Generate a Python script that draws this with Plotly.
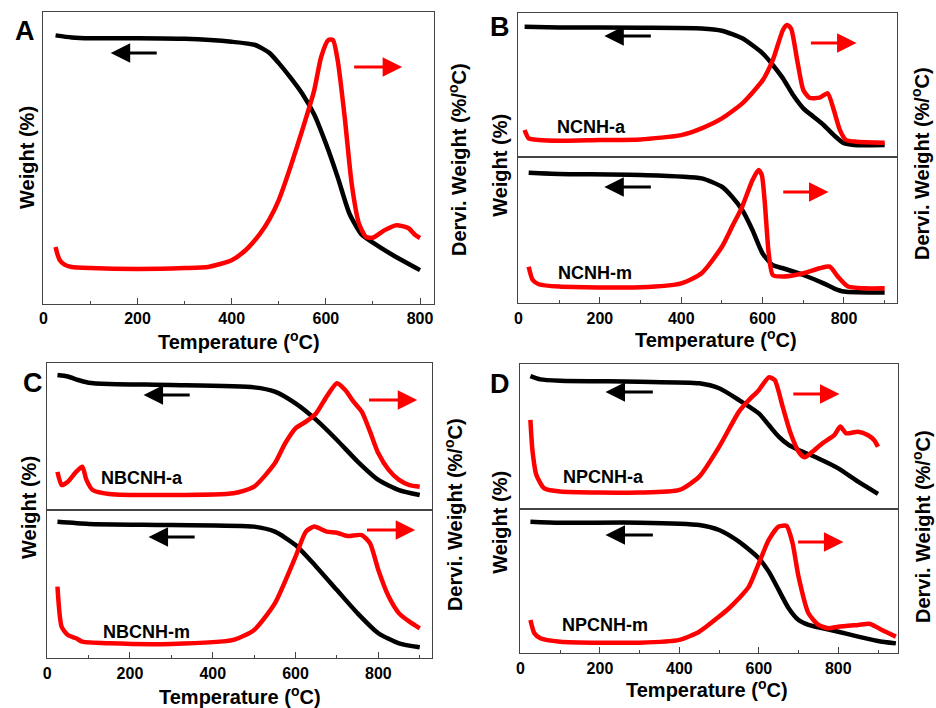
import plotly.graph_objects as go

# ---------------- DATA (arbitrary units 0-100) ----------------
# Panel A
A_T_w = [26, 60, 100, 200, 300, 400, 450, 480, 500, 525, 550, 575, 600, 625, 650, 675, 700, 750, 800]
A_w   = [92, 91.3, 91, 91, 90.8, 89.8, 88.7, 86, 82.5, 77.5, 72, 65, 55, 43.5, 31, 24, 21, 16, 11.6]
A_T_d = [26, 30, 35, 45, 60, 100, 200, 300, 350, 400, 430, 460, 480, 500, 525, 550, 575, 590, 605, 615,
         625, 640, 655, 670, 685, 700, 725, 750, 775, 790, 800]
A_d   = [19.5, 17, 15, 13.5, 12.7, 12.3, 12, 12.3, 12.7, 15, 18.5, 24, 29, 35.6, 47, 59.6, 73, 84.6, 90.4, 90.4,
         83.6, 64, 41, 27.7, 23, 22.7, 25.3, 27, 26, 23.6, 22.6]

# Panel B - NCNH-a
Ba_T_w = [15, 100, 300, 450, 500, 550, 600, 625, 650, 675, 700, 725, 750, 775, 800, 825, 900]
Ba_w   = [90.3, 89.8, 89.6, 89.1, 87.5, 82.2, 71.8, 63.7, 54.4, 42.8, 33.6, 27.8, 22, 15, 9.3, 8.1, 8.1]
Ba_T_d = [15, 25, 50, 100, 200, 300, 400, 450, 500, 550, 600, 625, 650, 660, 670, 685, 700, 715, 740,
          760, 775, 790, 805, 830, 900]
Ba_d   = [18.5, 12.7, 11.6, 11.1, 11.6, 12, 15, 19.7, 26.6, 37, 53, 67, 88, 91.4, 89, 67, 46.3, 41, 41,
          44, 32.4, 18.5, 11.6, 10.4, 9.7]
# Panel B - NCNH-m
Bm_T_w = [25, 100, 300, 450, 500, 525, 550, 575, 600, 625, 650, 700, 750, 775, 800, 900]
Bm_w   = [89, 88.2, 87.5, 85.2, 79.5, 72.7, 63.6, 50, 34, 26, 23.9, 19.3, 13.6, 10.2, 8, 7.3]
Bm_T_d = [25, 35, 50, 100, 300, 400, 450, 500, 525, 550, 575, 590, 598, 605, 615, 625, 650, 700, 740,
          765, 785, 810, 850, 900]
Bm_d   = [25, 15.9, 13, 11.4, 10.9, 13.6, 20.5, 38.6, 52.3, 66, 84, 91, 87.5, 70, 34, 19.3, 18.2, 20.5, 23.9,
          25, 18.2, 11.4, 10.2, 10.2]

# Panel C - NBCNH-a
Ca_T_w = [25, 50, 75, 100, 150, 300, 500, 550, 600, 650, 700, 750, 800, 850, 900]
Ca_w   = [92, 91, 88.6, 86.8, 85.9, 85.2, 83.6, 80.7, 72.7, 61.4, 47.7, 33, 20.5, 13.6, 10.2]
Ca_T_d = [25, 35, 50, 70, 85, 95, 110, 150, 300, 450, 500, 550, 575, 600, 625, 650, 675, 700, 720,
          740, 760, 780, 800, 825, 850, 875, 900]
Ca_d   = [26, 17, 19.3, 26, 29.5, 20.5, 13.6, 10.9, 10.2, 11.4, 15.9, 31.8, 45.5, 55.7, 60.2, 66, 77.3, 86.4, 81.8,
          73.9, 67, 53.4, 38.6, 27.3, 20.5, 17, 15.9]
# Panel C - NBCNH-m
Cm_T_w = [25, 100, 300, 500, 550, 600, 650, 700, 750, 800, 850, 900]
Cm_w   = [92, 90.6, 89.9, 88.8, 85.4, 76.4, 61.8, 46, 30.3, 16.9, 10.1, 7.4]
Cm_T_d = [25, 35, 50, 70, 85, 150, 300, 450, 500, 550, 600, 625, 645, 675, 700, 725, 760, 780, 800,
          825, 850, 875, 900]
Cm_d   = [48.3, 21.3, 15.7, 13.5, 11.2, 10.1, 9.7, 12.4, 19.1, 37, 68.5, 85.4, 88.8, 85.4, 84.7, 82.5, 83.1, 77.5, 59.6,
          41.6, 30.3, 24.7, 20.2]

# Panel D - NPCNH-a
Da_T_w = [25, 50, 100, 300, 450, 500, 550, 600, 625, 650, 675, 700, 750, 800, 850, 900]
Da_w   = [91.7, 89.4, 88.5, 87.8, 86.7, 83.3, 75.2, 66, 58, 50, 44.3, 40.8, 35, 28.2, 19, 10.6]
Da_T_d = [25, 30, 40, 60, 100, 300, 400, 450, 500, 550, 575, 600, 625, 640, 660, 680, 700, 715, 735,
          760, 790, 805, 820, 850, 875, 890, 900]
Da_d   = [61.5, 40.8, 23.6, 14.4, 12.2, 11.5, 13.3, 22.5, 43, 67.2, 75.2, 82, 90.8, 89, 70.6, 52.3, 39.7, 35.8, 39.7,
          45.4, 51, 56.9, 52.3, 53.4, 51, 47.7, 43]
# Panel D - NPCNH-m
Dm_T_w = [25, 100, 300, 450, 500, 550, 600, 625, 650, 675, 700, 725, 750, 800, 850, 900, 945]
Dm_w   = [91.4, 90.7, 90.7, 89.1, 85.6, 77.5, 66, 56.7, 44, 31.3, 23.1, 19.7, 18, 15, 11.6, 8.6, 6.9]
Dm_T_d = [25, 35, 50, 100, 300, 400, 450, 500, 525, 550, 575, 600, 625, 650, 670, 685, 700, 725, 750,
          775, 800, 850, 880, 910, 945]
Dm_d   = [23.1, 13.9, 10.4, 8.1, 7.4, 9.3, 15, 25.5, 31.3, 38.2, 46.3, 62.5, 78.7, 88, 88.4, 76.4, 53.2, 27.8, 19.7,
          17.4, 18.5, 19.7, 20.4, 16.2, 11.6]

x_ticks = [0, 200, 400, 600, 800]
sample_labels = ["NCNH-a", "NCNH-m", "NBCNH-a", "NBCNH-m", "NPCNH-a", "NPCNH-m"]
panel_letters = ["A", "B", "C", "D"]

# ---------------- FIGURE ----------------
W, H = 936, 708
FONT = "Arial, Liberation Sans, sans-serif"
FRAME = "#444444"


def fx(p):
    return p / W


def fy(p):
    return 1 - p / H


# subplot definitions: (x pixel domain, y pixel domain, x range, show x ticks, weight, deriv)
subplots = [
    ((39.5, 432), (12, 304), 830, True, (A_T_w, A_w), (A_T_d, A_d)),
    ((516.7, 896.7), (12.7, 156.7), 930, False, (Ba_T_w, Ba_w), (Ba_T_d, Ba_d)),
    ((516.7, 896.7), (156.7, 303.3), 930, True, (Bm_T_w, Bm_w), (Bm_T_d, Bm_d)),
    ((43.3, 430), (363.3, 510), 930, False, (Ca_T_w, Ca_w), (Ca_T_d, Ca_d)),
    ((43.3, 430), (510, 658.3), 930, True, (Cm_T_w, Cm_w), (Cm_T_d, Cm_d)),
    ((518.7, 897.7), (364, 509.3), 950, False, (Da_T_w, Da_w), (Da_T_d, Da_d)),
    ((518.7, 897.7), (509.3, 653.3), 950, True, (Dm_T_w, Dm_w), (Dm_T_d, Dm_d)),
]

fig = go.Figure()
layout = {}
for i, (xd, yd, xmax, showx, wdat, ddat) in enumerate(subplots):
    xid = "x" if i == 0 else f"x{i + 1}"
    xkey = "xaxis" if i == 0 else f"xaxis{i + 1}"
    nl, nr = 2 * i + 1, 2 * i + 2
    ylid = "y" if nl == 1 else f"y{nl}"
    ylkey = "yaxis" if nl == 1 else f"yaxis{nl}"
    yrid = f"y{nr}"
    yrkey = f"yaxis{nr}"
    xa = dict(domain=[fx(xd[0]), fx(xd[1])], range=[0, xmax], anchor=ylid,
              showline=True, linecolor=FRAME, linewidth=1.2, mirror=True,
              showgrid=False, zeroline=False)
    if showx:
        xa.update(tickmode="array", tickvals=x_ticks, ticktext=[str(v) for v in x_ticks],
                  ticks="inside", ticklen=6, tickwidth=1.2, tickcolor=FRAME,
                  minor=dict(tickmode="array", tickvals=[100, 300, 500, 700, 900],
                             ticks="inside", ticklen=3, tickwidth=1.2, tickcolor=FRAME),
                  tickfont=dict(family=FONT, size=16, color="black", weight="bold"))
    else:
        xa.update(showticklabels=False, ticks="")
    layout[xkey] = xa
    layout[ylkey] = dict(domain=[fy(yd[1]), fy(yd[0])], range=[0, 100], anchor=xid,
                         showline=True, linecolor=FRAME, linewidth=1.2, mirror=True,
                         showgrid=False, zeroline=False, showticklabels=False, ticks="")
    layout[yrkey] = dict(overlaying=ylid, side="right", range=[0, 100], anchor=xid,
                         showline=False, showgrid=False, zeroline=False,
                         showticklabels=False, ticks="")
    fig.add_trace(go.Scatter(x=wdat[0], y=wdat[1], mode="lines", xaxis=xid, yaxis=ylid,
                             line=dict(color="black", width=4.5, shape="spline", smoothing=0.6),
                             showlegend=False))
    fig.add_trace(go.Scatter(x=ddat[0], y=ddat[1], mode="lines", xaxis=xid, yaxis=yrid,
                             line=dict(color="#ff0000", width=4.5, shape="spline", smoothing=0.6),
                             showlegend=False))

ann = []


def arrow(i, x_head, x_tail, y, color):
    xid = "x" if i == 0 else f"x{i + 1}"
    nl = 2 * i + 1
    ylid = "y" if nl == 1 else f"y{nl}"
    ann.append(dict(x=x_head, y=y, ax=x_tail, ay=y, xref=xid, yref=ylid, axref=xid, ayref=ylid,
                    text="", showarrow=True, arrowhead=2, arrowsize=1.3, arrowwidth=3,
                    arrowcolor=color, standoff=0, startstandoff=0))


# arrows (black -> left axis, red -> right axis)
arrow(0, 143, 244, 86, "black");   arrow(0, 762, 657, 81.2, "red")
arrow(1, 211, 329, 83.8, "black"); arrow(1, 831, 715, 79, "red")
arrow(2, 211, 329, 79.3, "black"); arrow(2, 762, 647, 75.9, "red")
arrow(3, 233, 348, 78.4, "black"); arrow(3, 894, 774, 75, "red")
arrow(4, 245, 360, 81.8, "black"); arrow(4, 889, 769, 86.5, "red")
arrow(5, 214, 337, 80.7, "black"); arrow(5, 803, 683, 79.4, "red")
arrow(6, 214, 337, 82.2, "black"); arrow(6, 813, 695, 77.3, "red")

# sample labels
label_pos = [(1, 179, 20.6), (2, 189, 20.7), (3, 230, 21.8), (4, 239, 17.7), (5, 210, 22.2), (6, 214, 19.7)]
for (i, x, y), txt in zip(label_pos, sample_labels):
    xid = f"x{i + 1}"
    ylid = f"y{2 * i + 1}"
    ann.append(dict(x=x, y=y, xref=xid, yref=ylid, text=txt, showarrow=False,
                    xanchor="center", yanchor="middle",
                    font=dict(family=FONT, size=18, color="black", weight="bold")))

title_font = dict(family=FONT, size=20, color="black", weight="bold")


def paper_text(px, py, text, font, angle=0):
    ann.append(dict(x=fx(px), y=fy(py), xref="paper", yref="paper", text=text,
                    showarrow=False, xanchor="center", yanchor="middle",
                    textangle=angle, font=font))


# panel letters
for (px, py), t in zip([(21, 31), (498, 27), (29, 383), (498, 384)], panel_letters):
    paper_text(px, py, t, dict(family=FONT, size=27, color="black", weight="bold"))
# axis titles
for px, py in [(236, 340), (715, 338), (237, 695), (706, 688)]:
    paper_text(px, py, "Temperature (<sup>o</sup>C)", title_font)
for px, py in [(23, 157), (498, 165), (25, 507), (498, 522)]:
    paper_text(px, py, "Weight (%)", title_font, -90)
for px, py in [(455, 160), (921, 164), (451, 515), (921, 527)]:
    paper_text(px, py, "Dervi. Weight (%/<sup>o</sup>C)", title_font, -90)

layout.update(width=W, height=H, margin=dict(l=0, r=0, t=0, b=0),
              paper_bgcolor="white", plot_bgcolor="white", annotations=ann,
              font=dict(family=FONT, color="black"))
fig.update_layout(**layout)
fig.write_html("out.html", config={"displayModeBar": False},
               post_script="document.body.style.margin='0';document.body.style.padding='0';")
